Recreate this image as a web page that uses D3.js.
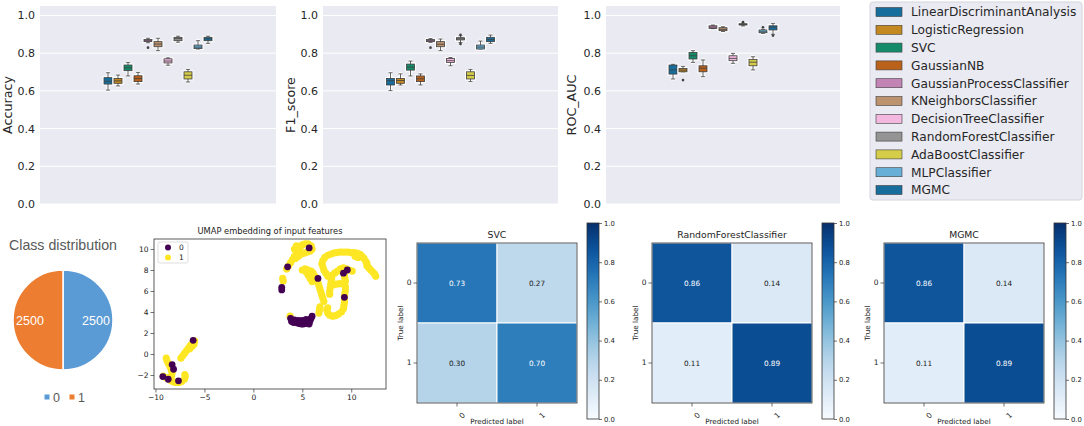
<!DOCTYPE html>
<html>
<head>
<meta charset="utf-8">
<script src="https://cdnjs.cloudflare.com/ajax/libs/d3/7.8.5/d3.min.js"></script>
<style>
    body { margin: 0; background: #fff; }
    svg { display: block; font-family: "DejaVu Sans", sans-serif; }
</style>
</head>
<body>
<svg id="chart" width="1084" height="426"></svg>
<script>
(function() {

    var models = ["LinearDiscriminantAnalysis", "LogisticRegression", "SVC", "GaussianNB",
        "GaussianProcessClassifier", "KNeighborsClassifier", "DecisionTreeClassifier",
        "RandomForestClassifier", "AdaBoostClassifier", "MLPClassifier", "MGMC"];

    // seaborn "colorblind", MGMC wraps back to the first colour
    var modelColors = ["#0173b2", "#de8f05", "#029e73", "#d55e00", "#cc78bc", "#ca9161",
        "#fbafe4", "#949494", "#ece133", "#56b4e9", "#0173b2"];

    var scoreTicks = [0, 0.2, 0.4, 0.6, 0.8, 1.0];

    // [whisker low, q1, median, q3, whisker high, outliers]
    var accuracyStats = [
        [0.604, 0.636, 0.651, 0.670, 0.696, []],
        [0.626, 0.640, 0.653, 0.666, 0.684, []],
        [0.679, 0.707, 0.722, 0.737, 0.751, []],
        [0.636, 0.649, 0.665, 0.680, 0.698, []],
        [0.855, 0.861, 0.866, 0.872, 0.879, [0.829]],
        [0.813, 0.834, 0.848, 0.861, 0.879, []],
        [0.736, 0.748, 0.758, 0.770, 0.775, []],
        [0.858, 0.866, 0.877, 0.884, 0.890, []],
        [0.647, 0.663, 0.683, 0.701, 0.714, []],
        [0.822, 0.824, 0.832, 0.843, 0.866, []],
        [0.852, 0.866, 0.876, 0.884, 0.890, []]
    ];

    var f1Stats = [
        [0.601, 0.631, 0.654, 0.666, 0.696, []],
        [0.631, 0.640, 0.655, 0.666, 0.690, []],
        [0.679, 0.710, 0.726, 0.742, 0.758, []],
        [0.631, 0.649, 0.664, 0.679, 0.690, []],
        [0.857, 0.861, 0.866, 0.872, 0.877, [0.829]],
        [0.813, 0.834, 0.847, 0.861, 0.875, []],
        [0.733, 0.751, 0.760, 0.772, 0.777, []],
        [0.856, 0.870, 0.876, 0.882, 0.892, [0.849, 0.897]],
        [0.649, 0.663, 0.682, 0.701, 0.714, []],
        [0.822, 0.822, 0.832, 0.843, 0.864, []],
        [0.852, 0.861, 0.872, 0.884, 0.896, []]
    ];

    var rocStats = [
        [0.663, 0.689, 0.711, 0.737, 0.741, []],
        [0.701, 0.701, 0.710, 0.719, 0.730, [0.657]],
        [0.751, 0.769, 0.786, 0.804, 0.813, []],
        [0.675, 0.701, 0.720, 0.733, 0.764, []],
        [0.930, 0.931, 0.938, 0.945, 0.949, []],
        [0.915, 0.919, 0.926, 0.935, 0.940, []],
        [0.746, 0.760, 0.772, 0.786, 0.799, []],
        [0.944, 0.949, 0.952, 0.956, 0.960, [0.965]],
        [0.711, 0.733, 0.752, 0.767, 0.781, []],
        [0.905, 0.908, 0.913, 0.923, 0.927, [0.937]],
        [0.900, 0.923, 0.938, 0.945, 0.958, [0.893]]
    ];

    var classLabels = ["0", "1"];
    var classCounts = [2500, 2500];
    var pieColors = ["#5b9bd5", "#ed7d31"];

    // UMAP embedding
    var umapClass1 = [
        [-8.9, -0.4], [-8.8, -0.7], [-8.65, -0.95], [-8.5, -1.2], [-8.4, -1.5], [-8.3, -1.8],
        [-8.35, -2.1], [-8.6, -2.3], [-8.9, -2.25], [-9.2, -2.1], [-8.5, -2.5], [-8.2, -2.65],
        [-7.9, -2.7], [-7.6, -2.7], [-7.3, -2.6], [-7.05, -2.4], [-6.95, -2.15], [-7.0, -1.95],
        [-7.4, -0.4], [-7.2, -0.15], [-7.0, 0.1], [-6.8, 0.35], [-6.6, 0.6], [-6.4, 0.85],
        [-6.2, 1.05], [-6.0, 1.25], [-6.05, 0.95], [-6.25, 0.75], [-6.5, 0.5],
        [3.4, 8.1], [3.6, 8.4], [3.8, 8.7], [4.0, 9.0], [4.2, 9.3], [4.4, 9.6], [4.6, 9.9],
        [4.8, 10.2], [5.0, 10.4], [5.3, 10.5], [5.6, 10.5], [5.9, 10.3], [6.0, 10.0], [5.8, 9.8],
        [5.5, 9.7], [5.2, 9.6], [4.9, 9.5], [4.6, 9.3], [4.3, 9.1], [4.4, 10.3], [4.2, 10.0],
        [3.0, 7.2], [3.05, 6.95],
        [5.0, 8.0], [5.3, 8.1], [5.6, 8.0], [5.9, 7.9], [6.1, 7.7], [6.3, 7.4], [6.5, 7.1],
        [6.6, 6.8], [6.7, 6.5], [6.8, 6.2], [6.9, 5.9], [7.0, 5.6], [7.1, 5.3], [7.2, 5.0],
        [5.4, 7.8], [5.6, 7.5], [5.8, 7.2], [6.0, 6.9],
        [6.8, 4.5], [6.75, 4.2], [6.7, 3.9], [3.75, 3.6],
        [7.1, 8.9], [7.3, 9.2], [7.6, 9.4], [7.9, 9.5], [8.2, 9.6], [8.5, 9.65], [8.8, 9.7],
        [9.1, 9.7], [9.4, 9.7], [9.7, 9.7], [10.0, 9.65], [10.3, 9.65], [10.6, 9.6], [10.9, 9.5],
        [11.1, 9.3], [11.3, 9.1], [11.5, 8.8], [11.6, 8.6], [10.4, 9.3], [10.7, 9.2],
        [7.0, 8.6], [7.1, 8.3], [7.2, 8.0], [7.4, 7.7], [7.6, 7.4],
        [11.6, 8.4], [11.8, 8.2], [12.0, 8.0], [12.2, 7.8], [12.4, 7.6], [12.5, 7.4],
        [8.0, 7.2], [7.95, 6.9], [7.9, 6.6], [7.85, 6.3], [7.8, 6.0], [7.8, 5.7],
        [8.2, 6.6], [8.5, 6.65], [8.8, 6.7], [9.1, 6.7],
        [9.3, 7.5], [9.35, 7.2], [9.4, 6.9], [9.4, 6.4], [9.4, 6.1], [9.35, 5.8], [9.3, 5.5],
        [9.3, 5.2], [9.3, 4.9], [9.25, 4.6], [9.2, 4.3],
        [9.0, 4.0], [8.7, 3.8], [8.4, 3.65], [8.1, 3.6], [7.8, 3.7], [7.6, 3.9], [7.5, 4.2], [7.6, 4.4],
        [8.9, 8.1], [9.2, 8.2], [9.5, 8.1], [9.8, 8.0], [10.1, 7.9], [8.6, 7.9], [8.3, 7.7], [8.0, 7.5]
    ];

    var umapClass0 = [
        [5.7, 10.1], [3.5, 8.3], [2.9, 6.35], [2.9, 6.1], [6.6, 7.2], [9.2, 7.7], [9.6, 8.0], [9.3, 5.4],
        [3.8, 3.4], [3.9, 3.1], [4.1, 3.0], [4.3, 3.05], [4.5, 2.95], [4.7, 2.9], [4.9, 2.85],
        [5.1, 2.85], [5.3, 2.9], [5.5, 2.95], [5.7, 3.0], [5.8, 3.2], [5.9, 3.4], [6.0, 3.6],
        [4.6, 3.2], [5.0, 3.2], [5.4, 3.3], [5.7, 2.85], [4.2, 3.25],
        [-8.3, -1.0], [-8.15, -1.45], [-9.25, -2.15], [-7.65, -2.55], [-6.15, 1.3], [-8.7, -2.4]
    ];
    var umapXTicks = [-10, -5, 0, 5, 10];
    var umapYTicks = [-2, 0, 2, 4, 6, 8, 10];

    // normalised confusion matrices, rows = true label
    var svcMatrix = [[0.73, 0.27], [0.30, 0.70]];
    var rfMatrix = [[0.86, 0.14], [0.11, 0.89]];
    var mgmcMatrix = [[0.86, 0.14], [0.11, 0.89]];
    var colorbarTicks = [0, 0.2, 0.4, 0.6, 0.8, 1.0];

    var svg = d3.select("#chart");

    // seaborn boxplot greys the palette down a bit
    function desaturate(c, prop) {
        var h = d3.hsl(c);
        h.s = h.s * prop;
        return h.formatHex();
    }
    var boxColors = modelColors.map(function(c) { return desaturate(c, 0.75); });
    var lineGrey = "#3f3f3f";

    ///////////////////////// BOX PLOT PANELS //////////////////////////
    var boxPanels = [
        {label: "Accuracy", stats: accuracyStats, x0: 40, x1: 276, labelX: 12},
        {label: "F1_score", stats: f1Stats, x0: 323, x1: 558, labelX: 295},
        {label: "ROC_AUC", stats: rocStats, x0: 606, x1: 840, labelX: 576}
    ];

    boxPanels.forEach(function(p) { drawBoxPanel(p); });

    function drawBoxPanel(p) {
        var top = 6, bottom = 204;
        var yScale = d3.scaleLinear().domain([0, 1.05]).range([bottom, top]);
        var cx = (p.x0 + p.x1) / 2;
        var xScale = d3.scaleBand().domain(models)
            .range([cx - 55, cx + 55]).paddingInner(0.2).paddingOuter(0.1);
        var bw = xScale.bandwidth();

        var g = svg.append("g").attr("class", "boxpanel");

        g.append("rect")
            .attr("x", p.x0).attr("y", top)
            .attr("width", p.x1 - p.x0).attr("height", bottom - top)
            .attr("fill", "#eaeaf2");

        g.selectAll(".grid")
            .data(scoreTicks)
            .enter()
            .append("line")
            .attr("x1", p.x0).attr("x2", p.x1)
            .attr("y1", function(d) { return yScale(d); })
            .attr("y2", function(d) { return yScale(d); })
            .attr("stroke", "#fff").attr("stroke-width", 1);

        var axis = g.append("g")
            .attr("transform", "translate(" + p.x0 + ",0)")
            .call(d3.axisLeft(yScale).tickValues(scoreTicks).tickFormat(d3.format(".1f")).tickSize(0).tickPadding(5));
        axis.select(".domain").remove();
        axis.selectAll("text").attr("font-size", "11px").attr("fill", "#262626").attr("font-family", "DejaVu Sans");

        g.append("text")
            .attr("transform", "translate(" + p.labelX + "," + ((top + bottom) / 2) + ") rotate(-90)")
            .attr("text-anchor", "middle")
            .attr("font-size", "12.7px")
            .attr("fill", "#262626")
            .text(p.label);

        var box = g.selectAll(".box")
            .data(p.stats)
            .enter()
            .append("g")
            .attr("class", "box");

        function xc(i) { return xScale(models[i]) + bw / 2; }

        // white halo first, then the marks
        ["#fff", lineGrey].forEach(function(stroke, k) {
            var w = k === 0 ? 3 : 0.8;
            box.append("line")
                .attr("x1", function(d, i) { return xc(i); })
                .attr("x2", function(d, i) { return xc(i); })
                .attr("y1", function(d) { return yScale(d[0]); })
                .attr("y2", function(d) { return yScale(d[4]); })
                .attr("stroke", stroke).attr("stroke-width", w);
            [0, 4].forEach(function(j) {
                box.append("line")
                    .attr("x1", function(d, i) { return xc(i) - bw / 4; })
                    .attr("x2", function(d, i) { return xc(i) + bw / 4; })
                    .attr("y1", function(d) { return yScale(d[j]); })
                    .attr("y2", function(d) { return yScale(d[j]); })
                    .attr("stroke", stroke).attr("stroke-width", w);
            });
            box.append("rect")
                .attr("x", function(d, i) { return xScale(models[i]); })
                .attr("y", function(d) { return yScale(d[3]); })
                .attr("width", bw)
                .attr("height", function(d) { return Math.max(1, yScale(d[1]) - yScale(d[3])); })
                .attr("fill", function(d, i) { return k === 0 ? "#fff" : boxColors[i]; })
                .attr("stroke", stroke).attr("stroke-width", w);
        });

        box.append("line")
            .attr("x1", function(d, i) { return xScale(models[i]); })
            .attr("x2", function(d, i) { return xScale(models[i]) + bw; })
            .attr("y1", function(d) { return yScale(d[2]); })
            .attr("y2", function(d) { return yScale(d[2]); })
            .attr("stroke", lineGrey).attr("stroke-width", 0.8);

        box.each(function(d, i) {
            d3.select(this).selectAll(".flier")
                .data(d[5])
                .enter()
                .append("circle")
                .attr("cx", xc(i))
                .attr("cy", function(v) { return yScale(v); })
                .attr("r", 1.3)
                .attr("fill", lineGrey);
        });
    }

    // legend for the three panels
    var legend = svg.append("g").attr("class", "legend");
    legend.append("rect")
        .attr("x", 870).attr("y", 2).attr("width", 212).attr("height", 198).attr("rx", 3)
        .attr("fill", "#eaeaf2").attr("stroke", "#d4d4dc");
    var legendY = d3.scalePoint().domain(models).range([12, 190]);
    var item = legend.selectAll(".item")
        .data(models)
        .enter()
        .append("g")
        .attr("transform", function(d) { return "translate(0," + legendY(d) + ")"; });
    item.append("rect")
        .attr("x", 876).attr("y", -4.5).attr("width", 26).attr("height", 9)
        .attr("fill", function(d, i) { return boxColors[i]; })
        .attr("stroke", lineGrey).attr("stroke-width", 0.6);
    item.append("text")
        .attr("x", 911).attr("dy", "0.36em")
        .attr("font-size", "12.2px").attr("fill", "#262626")
        .text(function(d) { return d; });

    ///////////////////////// CLASS DISTRIBUTION PIE //////////////////////////
    var pieG = svg.append("g").attr("font-family", "Liberation Sans, Arial, sans-serif");
    pieG.append("text")
        .attr("x", 63).attr("y", 250).attr("text-anchor", "middle")
        .attr("font-size", "14.2px").attr("fill", "#595959")
        .text("Class distribution");

    var pie = d3.pie().sort(null);
    var arc = d3.arc().innerRadius(0).outerRadius(50);
    var slices = pieG.append("g").attr("transform", "translate(63,320)")
        .selectAll("g")
        .data(pie(classCounts))
        .enter()
        .append("g");
    slices.append("path")
        .attr("d", arc)
        .attr("fill", function(d, i) { return pieColors[i]; })
        .attr("stroke", "#fff").attr("stroke-width", 1.5);
    var labelArc = d3.arc().innerRadius(33).outerRadius(33);
    slices.append("text")
        .attr("transform", function(d) { return "translate(" + labelArc.centroid(d) + ")"; })
        .attr("text-anchor", "middle").attr("dy", "0.36em")
        .attr("font-size", "12.5px").attr("fill", "#fff")
        .text(function(d) { return d.data; });

    var pieLegendX = d3.scalePoint().domain(classLabels).range([47, 72]);
    var pl = pieG.selectAll(".pl")
        .data(classLabels)
        .enter()
        .append("g")
        .attr("transform", function(d) { return "translate(" + pieLegendX(d) + ",397)"; });
    pl.append("rect")
        .attr("x", -2.5).attr("y", -2.5).attr("width", 5).attr("height", 5)
        .attr("fill", function(d, i) { return pieColors[i]; });
    pl.append("text")
        .attr("x", 6).attr("dy", "0.36em")
        .attr("font-size", "12.5px").attr("fill", "#595959")
        .text(function(d) { return d; });

    ///////////////////////// UMAP SCATTER //////////////////////////
    var ux = d3.scaleLinear().domain([-10.15, 13.55]).range([154, 386]);
    var uy = d3.scaleLinear().domain([-3.33, 10.95]).range([389, 239]);
    var umapG = svg.append("g");

    function minusFormat(d) { return d < 0 ? "\u2212" + (-d) : d; }

    umapG.append("g")
        .attr("transform", "translate(0,389)")
        .call(d3.axisBottom(ux).tickValues(umapXTicks).tickSize(3.5).tickPadding(2).tickFormat(minusFormat))
        .call(styleMplAxis);
    umapG.append("g")
        .attr("transform", "translate(154,0)")
        .call(d3.axisLeft(uy).tickValues(umapYTicks).tickSize(3.5).tickPadding(2).tickFormat(minusFormat))
        .call(styleMplAxis);

    function styleMplAxis(sel) {
        sel.select(".domain").remove();
        sel.selectAll("line").attr("stroke", "#333").attr("stroke-width", 0.7);
        sel.selectAll("text").attr("font-size", "7.5px").attr("fill", "#222").attr("font-family", "DejaVu Sans");
    }

    umapG.selectAll(".p1")
        .data(umapClass1)
        .enter()
        .append("circle")
        .attr("cx", function(d) { return ux(d[0]); })
        .attr("cy", function(d) { return uy(d[1]); })
        .attr("r", 3.6)
        .attr("fill", "#fde725");
    umapG.selectAll(".p0")
        .data(umapClass0)
        .enter()
        .append("circle")
        .attr("cx", function(d) { return ux(d[0]); })
        .attr("cy", function(d) { return uy(d[1]); })
        .attr("r", 3.4)
        .attr("fill", "#440154");

    umapG.append("rect")
        .attr("x", 154).attr("y", 239).attr("width", 232).attr("height", 150)
        .attr("fill", "none").attr("stroke", "#333").attr("stroke-width", 0.8);
    umapG.append("text")
        .attr("x", 270).attr("y", 234).attr("text-anchor", "middle")
        .attr("font-size", "8.3px").attr("fill", "#222")
        .text("UMAP embedding of input features");

    var umapLegY = d3.scalePoint().domain(classLabels).range([247.5, 257.5]);
    umapG.append("rect")
        .attr("x", 158).attr("y", 242).attr("width", 30).attr("height", 21).attr("rx", 2)
        .attr("fill", "#fff").attr("stroke", "#d0d0d0").attr("stroke-width", 0.7);
    var ul = umapG.selectAll(".ul")
        .data(classLabels)
        .enter()
        .append("g")
        .attr("transform", function(d) { return "translate(0," + umapLegY(d) + ")"; });
    ul.append("circle")
        .attr("cx", 168).attr("r", 3)
        .attr("fill", function(d) { return d === "0" ? "#440154" : "#fde725"; });
    ul.append("text")
        .attr("x", 179).attr("dy", "0.36em")
        .attr("font-size", "7.5px").attr("fill", "#222")
        .text(function(d) { return d; });

    ///////////////////////// CONFUSION MATRICES //////////////////////////
    var defs = svg.append("defs");
    var grad = defs.append("linearGradient")
        .attr("id", "bluesGrad")
        .attr("x1", 0).attr("y1", 1).attr("x2", 0).attr("y2", 0);
    grad.selectAll("stop")
        .data(d3.range(0, 1.0001, 0.05))
        .enter()
        .append("stop")
        .attr("offset", function(d) { return d; })
        .attr("stop-color", function(d) { return d3.interpolateBlues(d); });

    drawMatrix(svcMatrix, "SVC", 417);
    drawMatrix(rfMatrix, "RandomForestClassifier", 652);
    drawMatrix(mgmcMatrix, "MGMC", 884);

    function drawMatrix(values, title, left) {
        var top = 243, size = 160;
        var x = d3.scaleBand().domain(classLabels).range([left, left + size]);
        var y = d3.scaleBand().domain(classLabels).range([top, top + size]);
        var g = svg.append("g");

        var cells = [];
        values.forEach(function(row, r) {
            row.forEach(function(v, c) { cells.push({r: classLabels[r], c: classLabels[c], v: v}); });
        });

        g.selectAll(".cell")
            .data(cells)
            .enter()
            .append("rect")
            .attr("x", function(d) { return x(d.c); })
            .attr("y", function(d) { return y(d.r); })
            .attr("width", x.bandwidth())
            .attr("height", y.bandwidth())
            .attr("fill", function(d) { return d3.interpolateBlues(d.v); })
            .attr("stroke", "#fff").attr("stroke-width", 1);

        g.selectAll(".val")
            .data(cells)
            .enter()
            .append("text")
            .attr("x", function(d) { return x(d.c) + x.bandwidth() / 2; })
            .attr("y", function(d) { return y(d.r) + y.bandwidth() / 2; })
            .attr("dy", "0.36em")
            .attr("text-anchor", "middle")
            .attr("font-size", "7.3px")
            .attr("fill", function(d) { return d.v > 0.5 ? "#fff" : "#1a1a1a"; })
            .text(function(d) { return d3.format(".2f")(d.v); });

        g.append("rect")
            .attr("x", left).attr("y", top).attr("width", size).attr("height", size)
            .attr("fill", "none").attr("stroke", "#333").attr("stroke-width", 0.8);

        // ticks
        var yAx = g.append("g")
            .attr("transform", "translate(" + left + ",0)")
            .call(d3.axisLeft(y).tickSize(3.5).tickPadding(2));
        styleMplAxis(yAx);
        var xAx = g.append("g")
            .attr("transform", "translate(0," + (top + size) + ")")
            .call(d3.axisBottom(x).tickSize(3.5).tickPadding(2));
        styleMplAxis(xAx);
        xAx.selectAll("text")
            .attr("text-anchor", "end")
            .attr("dy", "0.5em")
            .attr("transform", "translate(2,6) rotate(-45)");

        g.append("text")
            .attr("x", left + size / 2).attr("y", top - 5)
            .attr("text-anchor", "middle")
            .attr("font-size", "9.3px").attr("fill", "#222")
            .text(title);
        g.append("text")
            .attr("x", left + size / 2).attr("y", 424)
            .attr("text-anchor", "middle")
            .attr("font-size", "7.2px").attr("fill", "#222")
            .text("Predicted label");
        g.append("text")
            .attr("transform", "translate(" + (left - 14) + "," + (top + size / 2) + ") rotate(-90)")
            .attr("text-anchor", "middle")
            .attr("font-size", "7.2px").attr("fill", "#222")
            .text("True label");

        // colorbar
        var cbX = left + 170, cbTop = 223, cbBottom = 419;
        var cbScale = d3.scaleLinear().domain([0, 1]).range([cbBottom, cbTop]);
        g.append("rect")
            .attr("x", cbX).attr("y", cbTop).attr("width", 12).attr("height", cbBottom - cbTop)
            .attr("fill", "url(#bluesGrad)")
            .attr("stroke", "#333").attr("stroke-width", 0.8);
        var cbAx = g.append("g")
            .attr("transform", "translate(" + (cbX + 12) + ",0)")
            .call(d3.axisRight(cbScale).tickValues(colorbarTicks).tickFormat(d3.format(".1f")).tickSize(3).tickPadding(2));
        styleMplAxis(cbAx);
        cbAx.selectAll("text").attr("font-size", "6.8px");
    }

})();
</script>
</body>
</html>
